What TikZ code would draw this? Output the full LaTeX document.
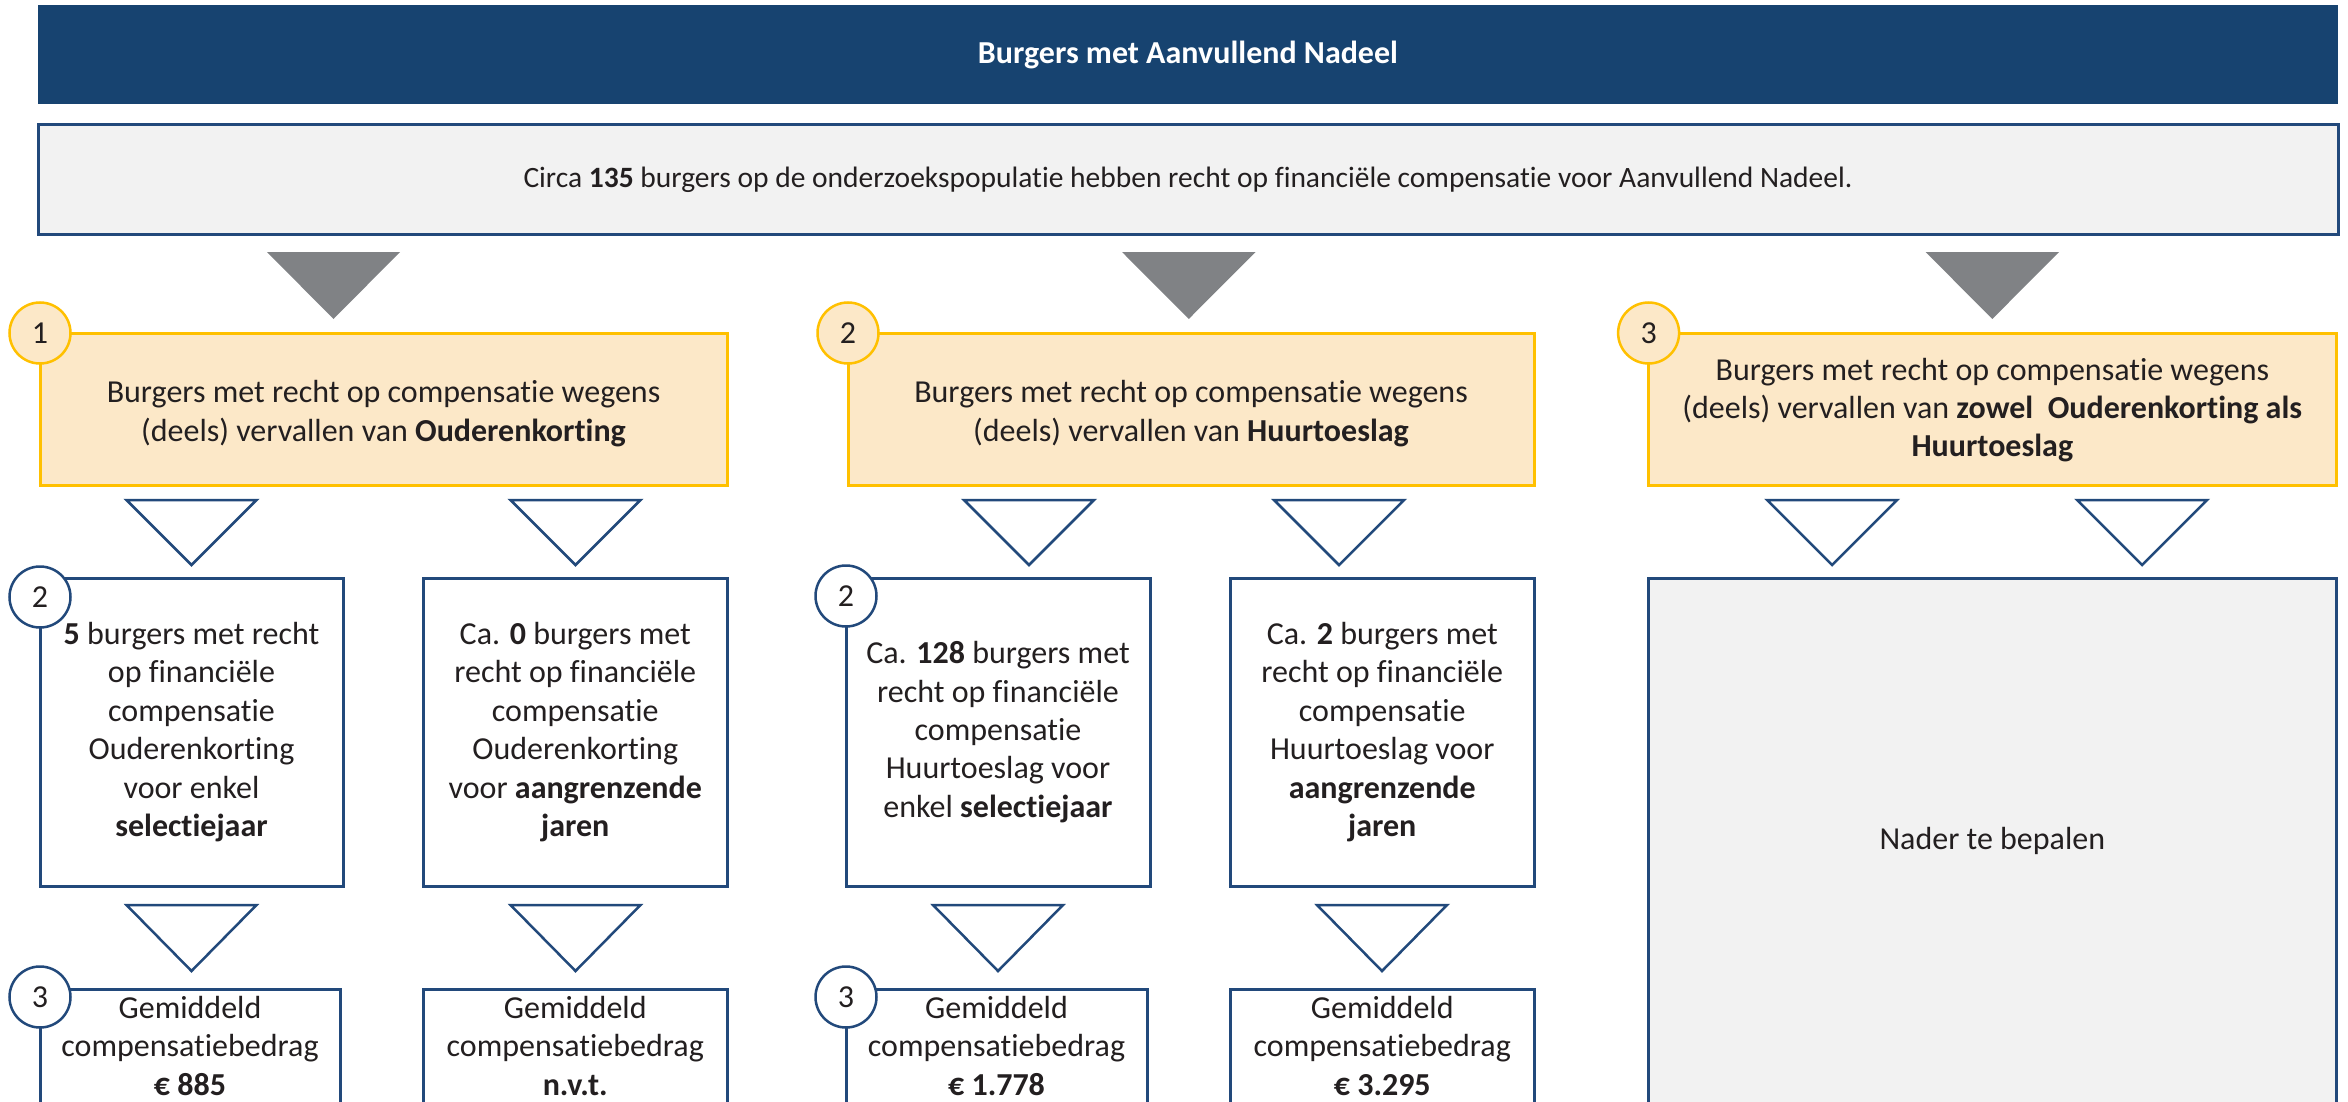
\documentclass[tikz,border=0pt]{standalone}
\usepackage{fontspec}
\setmainfont{Carlito}[Ligatures={NoCommon}]
\usetikzlibrary{calc}
\definecolor{navy}{HTML}{174370}
\definecolor{bord}{HTML}{22497B}
\definecolor{ylfill}{HTML}{FCE8C8}
\definecolor{ylline}{HTML}{FFC000}
\definecolor{trigray}{HTML}{808285}
\definecolor{lgray}{HTML}{F2F2F2}
\definecolor{txt}{HTML}{231F20}
\begin{document}
\begin{tikzpicture}[x=1pt,y=-1pt,
  every node/.style={inner sep=0pt, outer sep=0pt, text=txt},
  bodyfont/.style={font=\fontsize{32}{38.4}\selectfont},
  titlebar/.style={fill=navy, text=white, font=\fontsize{32}{38}\selectfont\bfseries},
  sumbox/.style={fill=lgray, draw=bord, line width=3pt, font=\fontsize{29.5}{36}\selectfont},
  ybox/.style={fill=ylfill, draw=ylline, line width=3pt},
  ytext/.style={bodyfont, align=center},
  wbox/.style={fill=white, draw=bord, line width=3pt, bodyfont, align=center},
  botbox/.style={fill=white, draw=bord, line width=3pt, bodyfont, align=center, anchor=north, inner ysep=7pt, text depth=40pt},
  gbox/.style={fill=lgray, draw=bord, line width=3pt, bodyfont, align=center},
  ycirc/.style={circle, minimum size=61pt, fill=ylfill, draw=ylline, line width=2.5pt, bodyfont},
  wcirc/.style={circle, minimum size=61pt, fill=white, draw=bord, line width=2.5pt, bodyfont},
  gtri/.style={fill=trigray},
  otri/.style={fill=white, draw=bord, line width=2.5pt, line join=miter},
]
\useasboundingbox (0,0) rectangle (2348,1102);
\clip (0,0) rectangle (2348,1102);
\fill[white] (0,0) rectangle (2348,1102);

% title and summary
\node[titlebar, minimum width=2300pt, minimum height=99pt] (title) at (1188,54.5) {Burgers met Aanvullend Nadeel};
\node[sumbox, minimum width=2300pt, minimum height=110pt] (sum) at (1188,180) {Circa \textbf{135} burgers op de onderzoekspopulatie hebben recht op financiële compensatie voor Aanvullend Nadeel.};

% gray triangles
\fill[gtri] (267,252) -- (400,252) -- (333.5,319) -- cycle;
\fill[gtri] (1122,252) -- (1255.5,252) -- (1188.75,319) -- cycle;
\fill[gtri] (1925.6,252) -- (2059,252) -- (1992.3,319) -- cycle;

% yellow boxes
\node[ybox, minimum width=687pt, minimum height=152pt] (y1) at (383.5,409) {};
\node[ybox, minimum width=686pt, minimum height=152pt] (y2) at (1191,409) {};
\node[ybox, minimum width=687.4pt, minimum height=152pt] (y3) at (1992.3,409) {};
\node[ytext] (y1t) at ($(y1.center)+(0,4.5)$) {Burgers met recht op compensatie wegens\\(deels) vervallen van \textbf{Ouderenkorting}};
\node[ytext] (y2t) at ($(y2.center)+(0,4.5)$) {Burgers met recht op compensatie wegens\\(deels) vervallen van \textbf{Huurtoeslag}};
\node[ytext] (y3t) at ($(y3.center)+(0,1)$) {Burgers met recht op compensatie wegens\\(deels) vervallen van \textbf{zowel\ \ Ouderenkorting als}\\\textbf{Huurtoeslag}};

% outline triangles row 1
\foreach \cx in {191.5,575.5,1029,1339,1832,2142}{
  \draw[otri] (\cx-65,500) -- (\cx+65,500) -- (\cx,565) -- cycle;
}

% white boxes
\node[wbox, minimum width=303pt, minimum height=308pt] (w1a) at (191.5,732) {\textbf{5} burgers met recht\\op financiële\\compensatie\\Ouderenkorting\\voor enkel\\\textbf{selectiejaar}};
\node[wbox, minimum width=303.5pt, minimum height=308pt] (w1b) at (575.25,732) {Ca. \textbf{0} burgers met\\recht op financiële\\compensatie\\Ouderenkorting\\voor \textbf{aangrenzende}\\\textbf{jaren}};
\node[wbox, minimum width=304pt, minimum height=308pt] (w2a) at (998,732) {Ca. \textbf{128} burgers met\\recht op financiële\\compensatie\\Huurtoeslag voor\\enkel \textbf{selectiejaar}};
\node[wbox, minimum width=303.5pt, minimum height=308pt] (w2b) at (1382.25,732) {Ca. \textbf{2} burgers met\\recht op financiële\\compensatie\\Huurtoeslag voor\\\textbf{aangrenzende}\\\textbf{jaren}};
\node[gbox, minimum width=687.4pt, minimum height=526pt] (g3) at (1992.3,841) {Nader te bepalen};

% outline triangles row 2
\foreach \cx in {191.5,575.5,998,1382}{
  \draw[otri] (\cx-65,905) -- (\cx+65,905) -- (\cx,971) -- cycle;
}

% bottom boxes
\node[botbox, minimum width=300pt] (b1a) at (190,989) {Gemiddeld\\compensatiebedrag\\\textbf{€ 885}};
\node[botbox, minimum width=303.5pt] (b1b) at (575.25,989) {Gemiddeld\\compensatiebedrag\\\textbf{n.v.t.}};
\node[botbox, minimum width=301pt] (b2a) at (996.5,989) {Gemiddeld\\compensatiebedrag\\\textbf{€ 1.778}};
\node[botbox, minimum width=303.5pt] (b2b) at (1382.25,989) {Gemiddeld\\compensatiebedrag\\\textbf{€ 3.295}};

% number circles
\node[ycirc] (n1) at (y1.north west) {1};
\node[ycirc] (n2) at (y2.north west) {2};
\node[ycirc] (n3) at (y3.north west) {3};
\node[wcirc] (m1) at ($(w1a.north west)+(0,19)$) {2};
\node[wcirc] (m2) at ($(w2a.north west)+(0,18)$) {2};
\node[wcirc] (k1) at ($(b1a.north west)+(0,8)$) {3};
\node[wcirc] (k2) at ($(b2a.north west)+(0,8)$) {3};
\end{tikzpicture}
\end{document}
